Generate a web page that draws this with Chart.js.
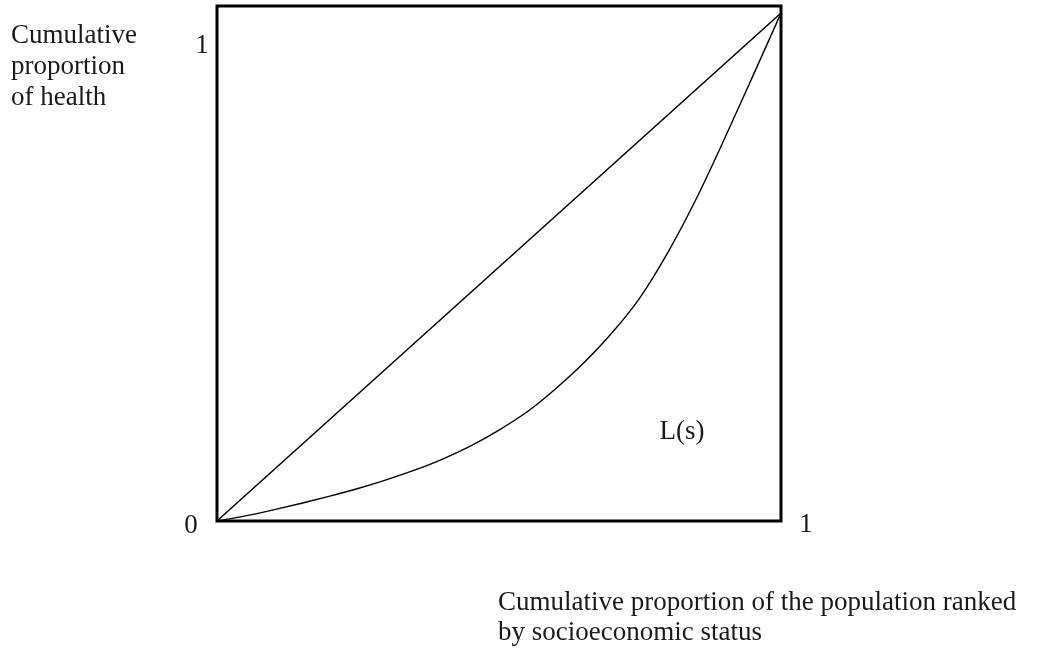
<!DOCTYPE html>
<html>
<head>
<meta charset="utf-8">
<script src="https://cdn.jsdelivr.net/npm/chart.js@4"></script>
<style>
  html, body { margin: 0; padding: 0; background: #fff; }
  #wrap { width: 1048px; height: 655px; position: relative; }
</style>
</head>
<body>
<div id="wrap"><canvas id="c"></canvas></div>
<script>
// Data
const shareX = [0, 0.05, 0.1, 0.15, 0.2, 0.25, 0.3, 0.35, 0.4, 0.45, 0.5, 0.55, 0.6, 0.65, 0.7, 0.75, 0.8, 0.85, 0.9, 0.95, 1];
const concentrationY = [0, 0.01, 0.022, 0.035, 0.049, 0.064, 0.081, 0.1, 0.122, 0.148, 0.179, 0.215, 0.26, 0.311, 0.37, 0.44, 0.53, 0.635, 0.753, 0.876, 1];
const equalityX = [0, 1];
const equalityY = [0, 1];
const yTitleLines = ['Cumulative', 'proportion', 'of health'];
const xTitleLines = ['Cumulative proportion of the population ranked', 'by socioeconomic status'];
const originLabel = '0';
const yMaxLabel = '1';
const xMaxLabel = '1';
const curveLabel = 'L(s)';

const FONT = '27px "Liberation Serif", "Times New Roman", serif';

const textPlugin = {
  id: 'texts',
  afterDraw(chart) {
    const ctx = chart.ctx;
    const a = chart.chartArea;
    ctx.save();
    // frame
    ctx.strokeStyle = '#000';
    ctx.lineWidth = 3;
    ctx.strokeRect(a.left, a.top, a.right - a.left, a.bottom - a.top);
    ctx.fillStyle = '#1a1a1a';
    ctx.font = FONT;
    ctx.textBaseline = 'alphabetic';
    ctx.textAlign = 'left';
    yTitleLines.forEach((t, i) => ctx.fillText(t, 11, 43 + i * 31));
    xTitleLines.forEach((t, i) => ctx.fillText(t, 498, 610 + i * 30));
    ctx.textAlign = 'center';
    ctx.fillText(yMaxLabel, 202, 53);
    ctx.fillText(originLabel, 191, 533);
    ctx.fillText(xMaxLabel, 806, 532);
    ctx.fillText(curveLabel, 682, 439);
    ctx.restore();
  }
};

new Chart(document.getElementById('c'), {
  type: 'scatter',
  data: {
    datasets: [
      {
        label: 'Equality',
        data: equalityX.map((x, i) => ({ x, y: equalityY[i] })),
        showLine: true,
        borderColor: '#000',
        borderWidth: 1.4,
        pointRadius: 0,
        tension: 0
      },
      {
        label: 'L(s)',
        data: shareX.map((x, i) => ({ x, y: concentrationY[i] })),
        showLine: true,
        borderColor: '#000',
        borderWidth: 1.4,
        pointRadius: 0,
        cubicInterpolationMode: 'monotone'
      }
    ]
  },
  options: {
    responsive: true,
    maintainAspectRatio: false,
    animation: false,
    layout: { padding: { left: 217, right: 267, top: 6, bottom: 134 } },
    plugins: { legend: { display: false }, tooltip: { enabled: false } },
    scales: {
      x: { type: 'linear', min: 0, max: 1, display: false },
      y: { type: 'linear', min: 0, max: 1.014, display: false }
    }
  },
  plugins: [textPlugin]
});
</script>
</body>
</html>
